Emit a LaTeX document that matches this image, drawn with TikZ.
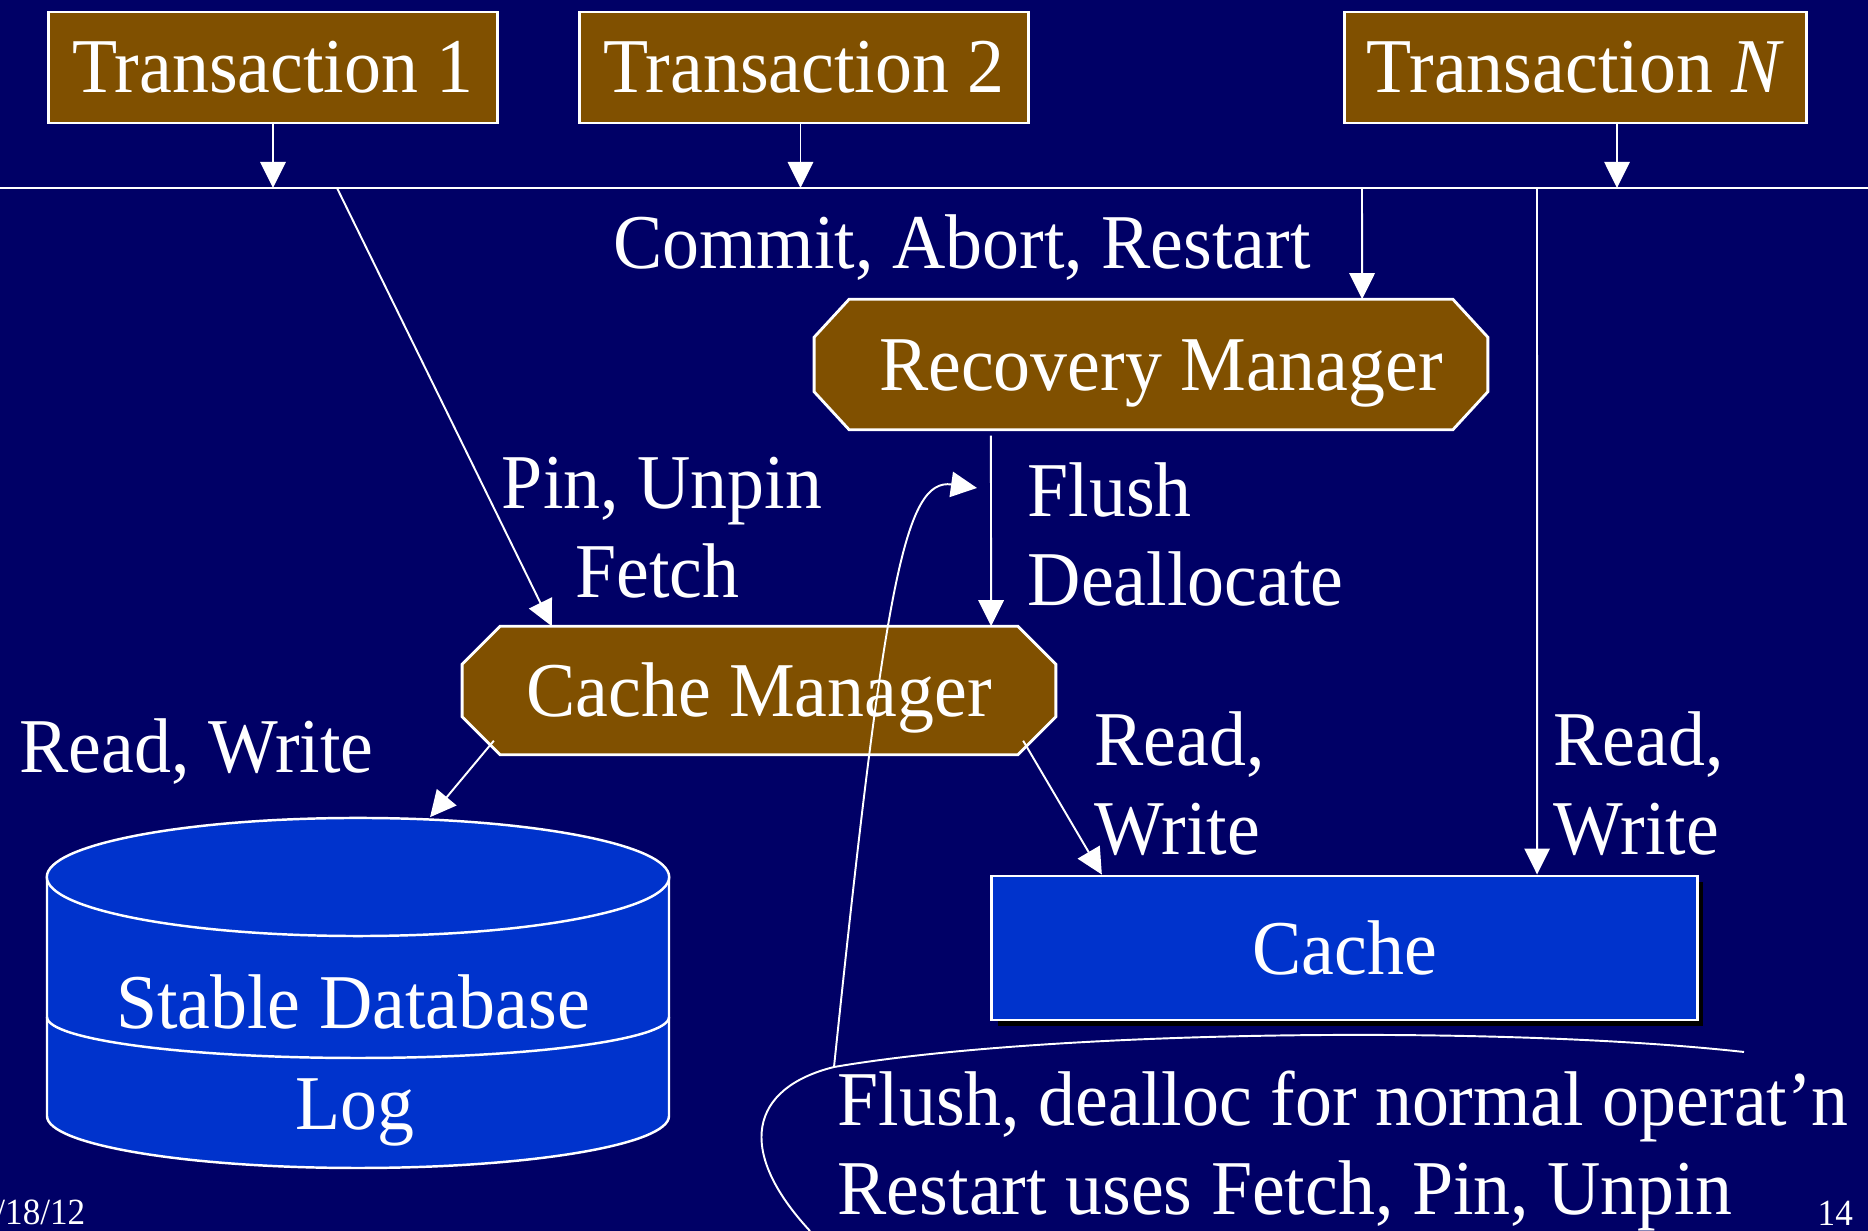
\documentclass[tikz,border=0pt]{standalone}
\usepackage{fontspec}
\setmainfont{Liberation Serif}
\usepackage{graphicx}
\usetikzlibrary{arrows.meta,shadows}
\definecolor{bgc}{RGB}{0,0,102}
\definecolor{brownc}{RGB}{128,80,0}
\definecolor{bluec}{RGB}{0,51,204}
\newcommand\tx[1]{\scalebox{1}[1.05]{#1}}
\newcommand\chamfer[3]{% node, xcut, ycut
  \draw[chline] ([xshift=#2]#1.north west) -- ([xshift=-#2]#1.north east) -- ([yshift=-#3]#1.north east)
   -- ([yshift=#3]#1.south east) -- ([xshift=-#2]#1.south east) -- ([xshift=#2]#1.south west)
   -- ([yshift=#3]#1.south west) -- ([yshift=-#3]#1.north west) -- cycle;}
\tikzset{
 lbl/.style={text=white, inner sep=0pt, font=\fontsize{21}{25}\selectfont},
 smalltext/.style={text=white, inner sep=0pt, font=\fontsize{10}{12}\selectfont},
 tbox/.style={draw=white, line width=0.8pt, fill=brownc, minimum width=4.48cm, minimum height=1.11cm, inner sep=0pt, text=white, font=\fontsize{21}{25}\selectfont},
 chbox/.style={rectangle, inner sep=0pt},
 chline/.style={draw=white, line width=0.8pt, fill=brownc},
 cachebox/.style={draw=white, line width=0.8pt, fill=bluec, minimum width=7.05cm, minimum height=1.44cm, inner sep=0pt, text=white, font=\fontsize{21}{25}\selectfont, drop shadow={shadow xshift=0.06cm, shadow yshift=-0.06cm, fill=black, opacity=1}},
 conn/.style={draw=white, line width=0.55pt},
 arr/.style={conn, -{Triangle[length=7.4pt,width=7.2pt]}},
 dbline/.style={draw=white, line width=0.7pt},
}
\begin{document}
\begin{tikzpicture}[x=0.01cm, y=-0.01cm]
\useasboundingbox (0,0) rectangle (1868,1231);
\clip (0,0) rectangle (1868,1231);
\fill[bgc] (0,0) rectangle (1868,1231);

% bus line
\coordinate (busL) at (0,188);
\coordinate (busR) at (1868,188);
\draw[conn, line width=0.7pt] (busL) -- (busR);

% transactions
\node[tbox] (t1) at (273,67.5) {\tx{Transaction 1}};
\node[tbox] (t2) at (804,67.5) {\tx{Transaction 2}};
\node[tbox, minimum width=4.61cm] (tn) at (1575.5,67.5) {\tx{Transaction \textit{N}}};
\draw[arr] (t1.south) -- (t1.south |- busL);
\draw[arr] ([xshift=-0.035cm]t2.south) -- ([xshift=-0.035cm]t2.south |- busL);
\draw[arr] ([xshift=0.415cm]tn.south) -- ([xshift=0.415cm]tn.south |- busL);

% managers
\node[chbox, minimum width=6.72cm, minimum height=1.29cm] (rm) at (1151,364.5) {};
\chamfer{rm}{0.35cm}{0.38cm}
\node[lbl, anchor=base] (rmt) at (1161,391) {\tx{Recovery Manager}};
\node[chbox, minimum width=5.92cm, minimum height=1.27cm] (cm) at (759,690.5) {};
\chamfer{cm}{0.38cm}{0.38cm}
\node[lbl, anchor=base] (cmt) at (759,717) {\tx{Cache Manager}};

% database
\fill[bluec] (47,877) -- (47,1116) .. controls (47,1144.7) and (186.2,1168) .. (358,1168) .. controls (529.8,1168) and (669,1144.7) .. (669,1116) -- (669,877) -- cycle;
\draw[dbline] (47,877) -- (47,1116) .. controls (47,1144.7) and (186.2,1168) .. (358,1168) .. controls (529.8,1168) and (669,1144.7) .. (669,1116) -- (669,877);
\draw[dbline] (47,1017) .. controls (47,1039.6) and (186.2,1058) .. (358,1058) .. controls (529.8,1058) and (669,1039.6) .. (669,1017);
\draw[dbline, fill=bluec] (358,877) ellipse [x radius=3.11cm, y radius=0.59cm];
\node[minimum width=6.22cm, minimum height=3.5cm, inner sep=0pt] (db) at (358,993) {};
\node[lbl, anchor=base] (dbt) at (353,1029) {\tx{Stable Database}};
\node[lbl, anchor=base] (logt) at (354.5,1130) {\tx{Log}};

% cache
\node[cachebox] (cache) at (1344.5,948) {\tx{Cache}};

% labels
\node[lbl, anchor=base] (commit) at (962,269) {\tx{Commit, Abort, Restart}};
\node[lbl, anchor=base] (pin) at (662,509) {\tx{Pin, Unpin}};
\node[lbl, anchor=base] (fetch) at (657.5,598) {\tx{Fetch}};
\node[lbl, anchor=base west] (flush) at (1027,517) {\tx{Flush}};
\node[lbl, anchor=base west] (dealloc) at (1027,606) {\tx{Deallocate}};
\node[lbl, anchor=base west] (rw1) at (19,773) {\tx{Read, Write}};
\node[lbl, anchor=base west] (rw2a) at (1094,766) {\tx{Read,}};
\node[lbl, anchor=base west] (rw2b) at (1094,855) {\tx{Write}};
\node[lbl, anchor=base west] (rw3a) at (1553,766) {\tx{Read,}};
\node[lbl, anchor=base west] (rw3b) at (1553,855) {\tx{Write}};

% connectors
\coordinate (pinstart) at (337,188);
\coordinate (commitstart) at (1362,188);
\coordinate (rwstart) at (1537,188);
\draw[arr] (pinstart) -- ([xshift=-2.07cm]cm.north);
\draw[arr] (commitstart) -- ([xshift=2.11cm]rm.north);
\draw[arr] ([xshift=-1.6cm,yshift=-0.06cm]rm.south) -- ([xshift=2.32cm]cm.north);
\draw[arr] ([xshift=-2.65cm,yshift=0.14cm]cm.south) -- ([xshift=0.72cm]db.north);
\draw[arr] ([xshift=2.64cm,yshift=0.14cm]cm.south) -- ([xshift=-2.425cm]cache.north);
\draw[arr] (rwstart) -- ([xshift=1.925cm]cache.north);

% bubble
\coordinate (bubtip) at (834,1067);
\coordinate (flushpt) at (977,488);
\draw[conn] (1744,1052) .. controls (1500,1025) and (1050,1030) .. (bubtip) .. controls (750,1088) and (735,1150) .. (810,1231);
\draw[arr] (bubtip) .. controls (885,580) and (905,478) .. (flushpt);
\node[lbl, anchor=base west] (bub1) at (837,1126) {\tx{Flush, dealloc for normal operat’n}};
\node[lbl, anchor=base west] (bub2) at (837,1215) {\tx{Restart uses Fetch, Pin, Unpin}};

% footer
\node[smalltext, anchor=base east] (date) at (86,1225) {\tx{/18/12}};
\node[smalltext, anchor=base west] (page) at (1817,1226) {\tx{14}};
\end{tikzpicture}
\end{document}
